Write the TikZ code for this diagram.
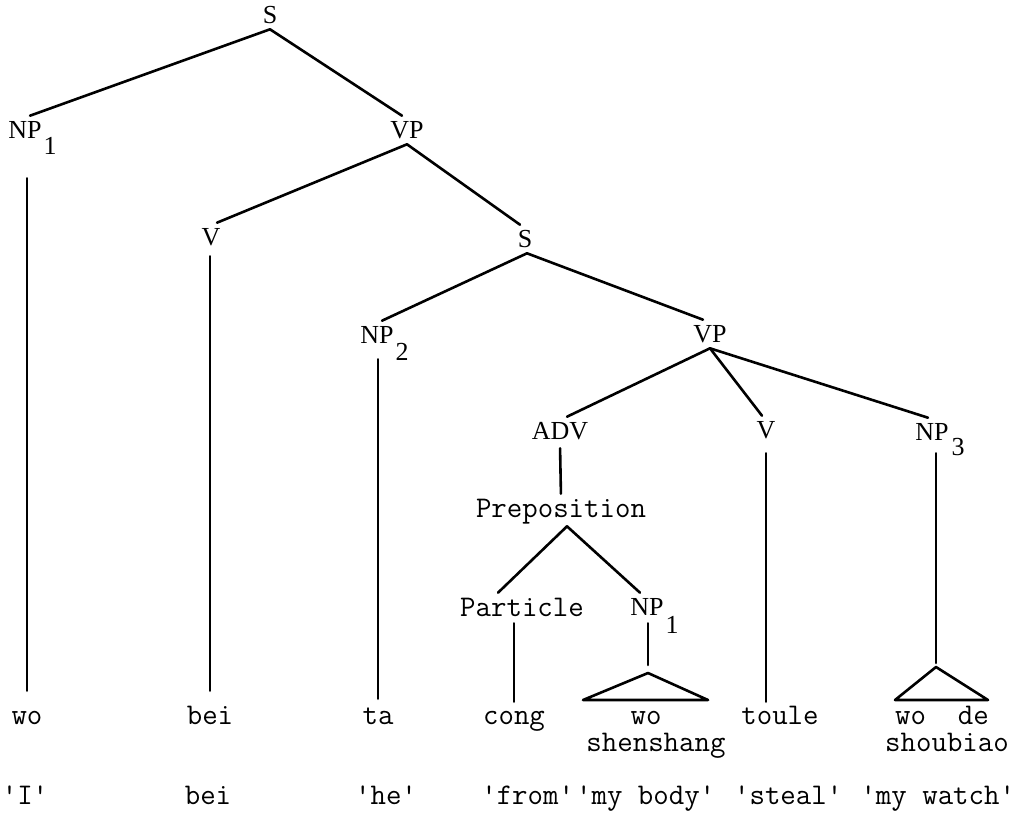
\documentclass[tikz,border=0pt]{standalone}
\usepackage{fontspec}
\setmainfont{Liberation Serif}
\begin{document}
\begin{tikzpicture}[x=0.5pt,y=-0.5pt, line width=1.3pt, line cap=round, line join=round,
  cat/.style={font=\fontsize{13}{15}\selectfont, inner sep=0pt, minimum height=13pt},
  sub/.style={font=\fontsize{13}{15}\selectfont, inner sep=0pt},
  tw/.style={font=\ttfamily\fontsize{15}{17}\selectfont, inner sep=0pt},
  twc/.style={tw, minimum height=13pt},
  word/.style={tw, text height=10pt, text depth=3pt, anchor=base},
  gloss/.style={tw, anchor=base west}]
\useasboundingbox (0,0) rectangle (1026,831);

% category labels
\node[cat] (S)    at (270,15)  {S};
\node[cat] (NP1)  at (25,130)  {NP};
\node[sub] (s1)   at (50,146)  {1};
\node[cat] (VP)   at (407,130) {VP};
\node[cat] (V)    at (211,237) {V};
\node[cat] (S2)   at (525,239) {S};
\node[cat] (NP2)  at (377,335) {NP};
\node[sub] (s2)   at (402,352) {2};
\node[cat] (VP2)  at (710,334) {VP};
\node[cat] (ADV)  at (560,431) {ADV};
\node[cat] (V2)   at (766,430) {V};
\node[cat] (NP3)  at (932,432) {NP};
\node[sub] (s3)   at (958,447) {3};
\node[twc] (Prep) at (561,512) {Preposition};
\node[twc] (Part) at (522,607) {Particle};
\node[cat] (NP1b) at (647,607) {NP};
\node[sub] (s1b)  at (672,625) {1};

% words
\node[word] (wo)    at (27,724)  {wo};
\node[word] (bei)   at (210,724) {bei};
\node[word] (ta)    at (378,724) {ta};
\node[word] (cong)  at (514,724) {cong};
\node[word] (wo2)   at (646,724) {wo};
\node[word] (shen)  at (656,751) {shenshang};
\node[word] (toule) at (780,724) {toule};
\node[word] (wode)  at (942,724) {wo\hspace{16pt}de};
\node[word] (shou)  at (947,751) {shoubiao};

% glosses
\node[tw, anchor=base] (gI)   at (25,804)  {'I'};
\node[tw, anchor=base] (gbei) at (208,804) {bei};
\node[tw, anchor=base] (ghe)  at (386,804) {'he'};
\node[gloss] (gfrom)  at (480,804)   {'from'};
\node[gloss] (gbody)  at (574.8,804) {'my body'};
\node[gloss] (gsteal) at (732.8,804) {'steal'};
\node[gloss] (gwatch) at (859.2,804) {'my watch'};

% branches
\draw (S.south) -- ([xshift=2.5pt]NP1.north);
\draw (S.south) -- ([xshift=-2.5pt]VP.north);
\draw (VP.south) -- ([xshift=3pt]V.north);
\draw (VP.south) -- ([xshift=-2.5pt]S2.north);
\draw ([xshift=1pt]S2.south) -- ([xshift=2.5pt]NP2.north);
\draw ([xshift=1pt]S2.south) -- ([xshift=-3.5pt]VP2.north);
\draw (VP2.south) -- ([xshift=3.5pt]ADV.north);
\draw (VP2.south) -- ([xshift=-2pt]V2.north);
\draw (VP2.south) -- ([xshift=-2pt]NP3.north);
\draw[shorten <=1.5pt, shorten >=2pt] (ADV.south) -- (Prep.north);
\draw ([xshift=3pt]Prep.south) -- ([xshift=-12pt]Part.north);
\draw ([xshift=3pt]Prep.south) -- ([xshift=-3.5pt]NP1b.north);

% vertical lines to words
\draw[shorten <=17pt, shorten >=6pt] (NP1.south -| wo.north) -- (wo.north);
\draw[shorten <=2.5pt, shorten >=6pt] (V.south -| bei.north) -- (bei.north);
\draw[shorten <=5pt, shorten >=2pt] (NP2.south -| ta.north) -- (ta.north);
\draw[shorten <=1pt, shorten >=0.5pt] (Part.south -| cong.north) -- (cong.north);
\draw[shorten <=4.5pt, shorten >=0.5pt] (V2.south) -- (V2.south |- toule.north);

% triangles
\coordinate (t1) at (648,673);
\coordinate (t2) at (936,667);
\draw[shorten <=1pt, shorten >=4pt] (NP1b.south -| t1) -- (t1);
\draw[shorten <=3.5pt, shorten >=2pt] (NP3.south -| t2) -- (t2);
\draw (t1) -- (583,700) -- (708,700) -- cycle;
\draw (t2) -- (895,700) -- (988,700) -- cycle;
\end{tikzpicture}
\end{document}
